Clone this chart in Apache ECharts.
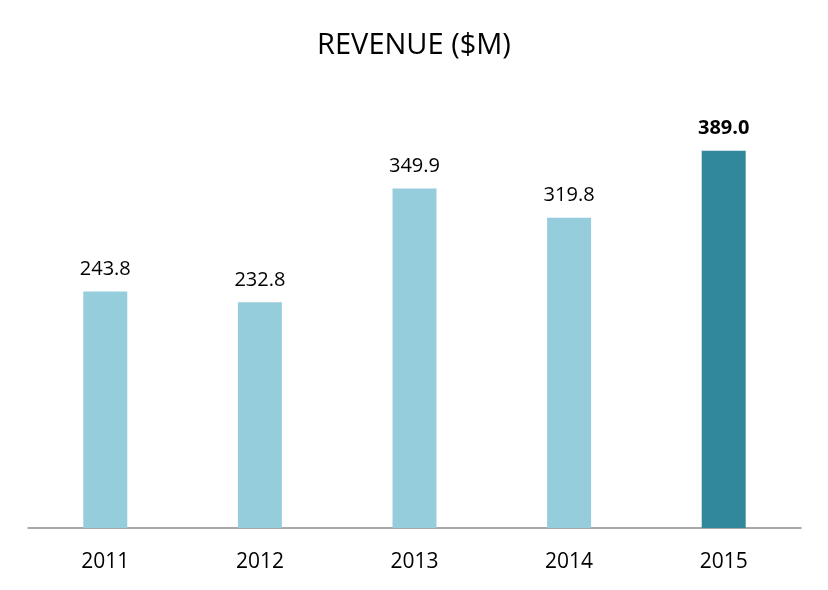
<!DOCTYPE html>
<html>
<head>
<meta charset="utf-8">
<script src="https://cdn.jsdelivr.net/npm/echarts@6/dist/echarts.min.js"></script>
<style>
  html, body { margin: 0; padding: 0; background: #fff; }
  #chart { width: 828px; height: 590px; }
</style>
</head>
<body>
<div id="chart"></div>
<script>
var years = ['2011', '2012', '2013', '2014', '2015'];
var revenue = [243.8, 232.8, 349.9, 319.8, 389.0];

var chart = echarts.init(document.getElementById('chart'));

// last year is highlighted
var barData = revenue.map(function (v, i) {
    var last = i === revenue.length - 1;
    return {
        value: v,
        itemStyle: {color: last ? '#31879b' : '#96cddd'},
        label: {fontWeight: last ? 'bold' : 'normal'}
    };
});

var option = {
    animation: false,
    title: {
        text: 'REVENUE ($M)',
        left: 'center',
        top: 26,
        textStyle: {fontFamily: 'Open Sans', fontSize: 29, fontWeight: 'normal', color: '#000'}
    },
    grid: {left: 28, right: 27, top: 43, bottom: 62},
    xAxis: {
        type: 'category',
        data: years,
        axisLine: {lineStyle: {color: '#8c8c8c', width: 1.5}},
        axisTick: {show: false},
        axisLabel: {margin: 24, fontFamily: 'Open Sans', fontSize: 21, color: '#000'}
    },
    yAxis: {
        type: 'value',
        min: 0,
        max: 500,
        show: false,
        splitLine: {show: false}
    },
    series: [
        {
            type: 'bar',
            data: barData,
            barWidth: 44,
            label: {
                show: true,
                position: 'top',
                distance: 12,
                formatter: function (p) { return p.value.toFixed(1); },
                fontFamily: 'Open Sans',
                fontSize: 20,
                color: '#000'
            }
        }
    ]
};

chart.setOption(option);
</script>
</body>
</html>
